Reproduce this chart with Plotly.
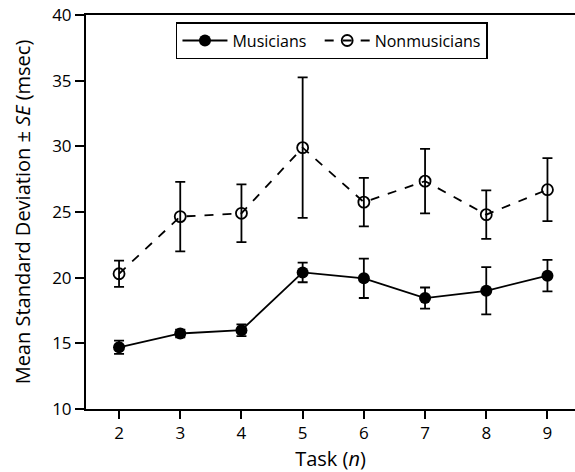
import plotly.graph_objects as go

tasks = [2, 3, 4, 5, 6, 7, 8, 9]
musicians = [14.7, 15.75, 16.0, 20.4, 19.95, 18.45, 19.0, 20.15]
musicians_se = [0.5, 0.3, 0.45, 0.75, 1.5, 0.8, 1.8, 1.2]
nonmusicians = [20.3, 24.65, 24.9, 29.9, 25.75, 27.35, 24.8, 26.7]
nonmusicians_se = [1.0, 2.65, 2.2, 5.35, 1.85, 2.45, 1.85, 2.4]
y_ticks = [10, 15, 20, 25, 30, 35, 40]

FONT = "Open Sans"

fig = go.Figure()
fig.add_trace(go.Scatter(
    x=tasks, y=musicians, name="Musicians  ", mode="lines+markers",
    line=dict(color="black", width=1.8),
    marker=dict(symbol="circle", size=12, color="black"),
    error_y=dict(type="data", array=musicians_se, color="black", thickness=1.8, width=5),
))
fig.add_trace(go.Scatter(
    x=tasks, y=nonmusicians, name="Nonmusicians", mode="lines+markers",
    line=dict(color="black", width=1.8, dash="dash"),
    marker=dict(symbol="circle-open", size=11, color="black", line=dict(width=1.8)),
    error_y=dict(type="data", array=nonmusicians_se, color="black", thickness=1.8, width=5),
))

fig.update_layout(
    width=575, height=472,
    margin=dict(l=86, r=0, t=15, b=63),
    paper_bgcolor="white", plot_bgcolor="white",
    font=dict(family=FONT, size=17, color="black"),
    showlegend=True,
    legend=dict(orientation="h", x=0.503, xanchor="center", y=0.982, yanchor="top",
                bordercolor="black", borderwidth=1.5, bgcolor="white",
                font=dict(size=16), itemwidth=45, tracegroupgap=0),
    xaxis=dict(range=[1.46, 9.45], tickvals=tasks, showgrid=False, zeroline=False,
               showline=True, linecolor="black", linewidth=2, mirror=True,
               ticks="outside", ticklen=8, tickwidth=1.5, tickcolor="black",
               title=dict(text="Task (<i>n</i>)", standoff=9, font=dict(size=20))),
    yaxis=dict(range=[10, 40], tickvals=y_ticks, showgrid=False, zeroline=False,
               showline=True, linecolor="black", linewidth=2,
               ticks="outside", ticklen=9, tickwidth=1.5, tickcolor="black",
               title=dict(text="Mean Standard Deviation ± <i>SE</i> (msec)", standoff=16,
                          font=dict(size=20))),
)

fig.write_html("out.html")
